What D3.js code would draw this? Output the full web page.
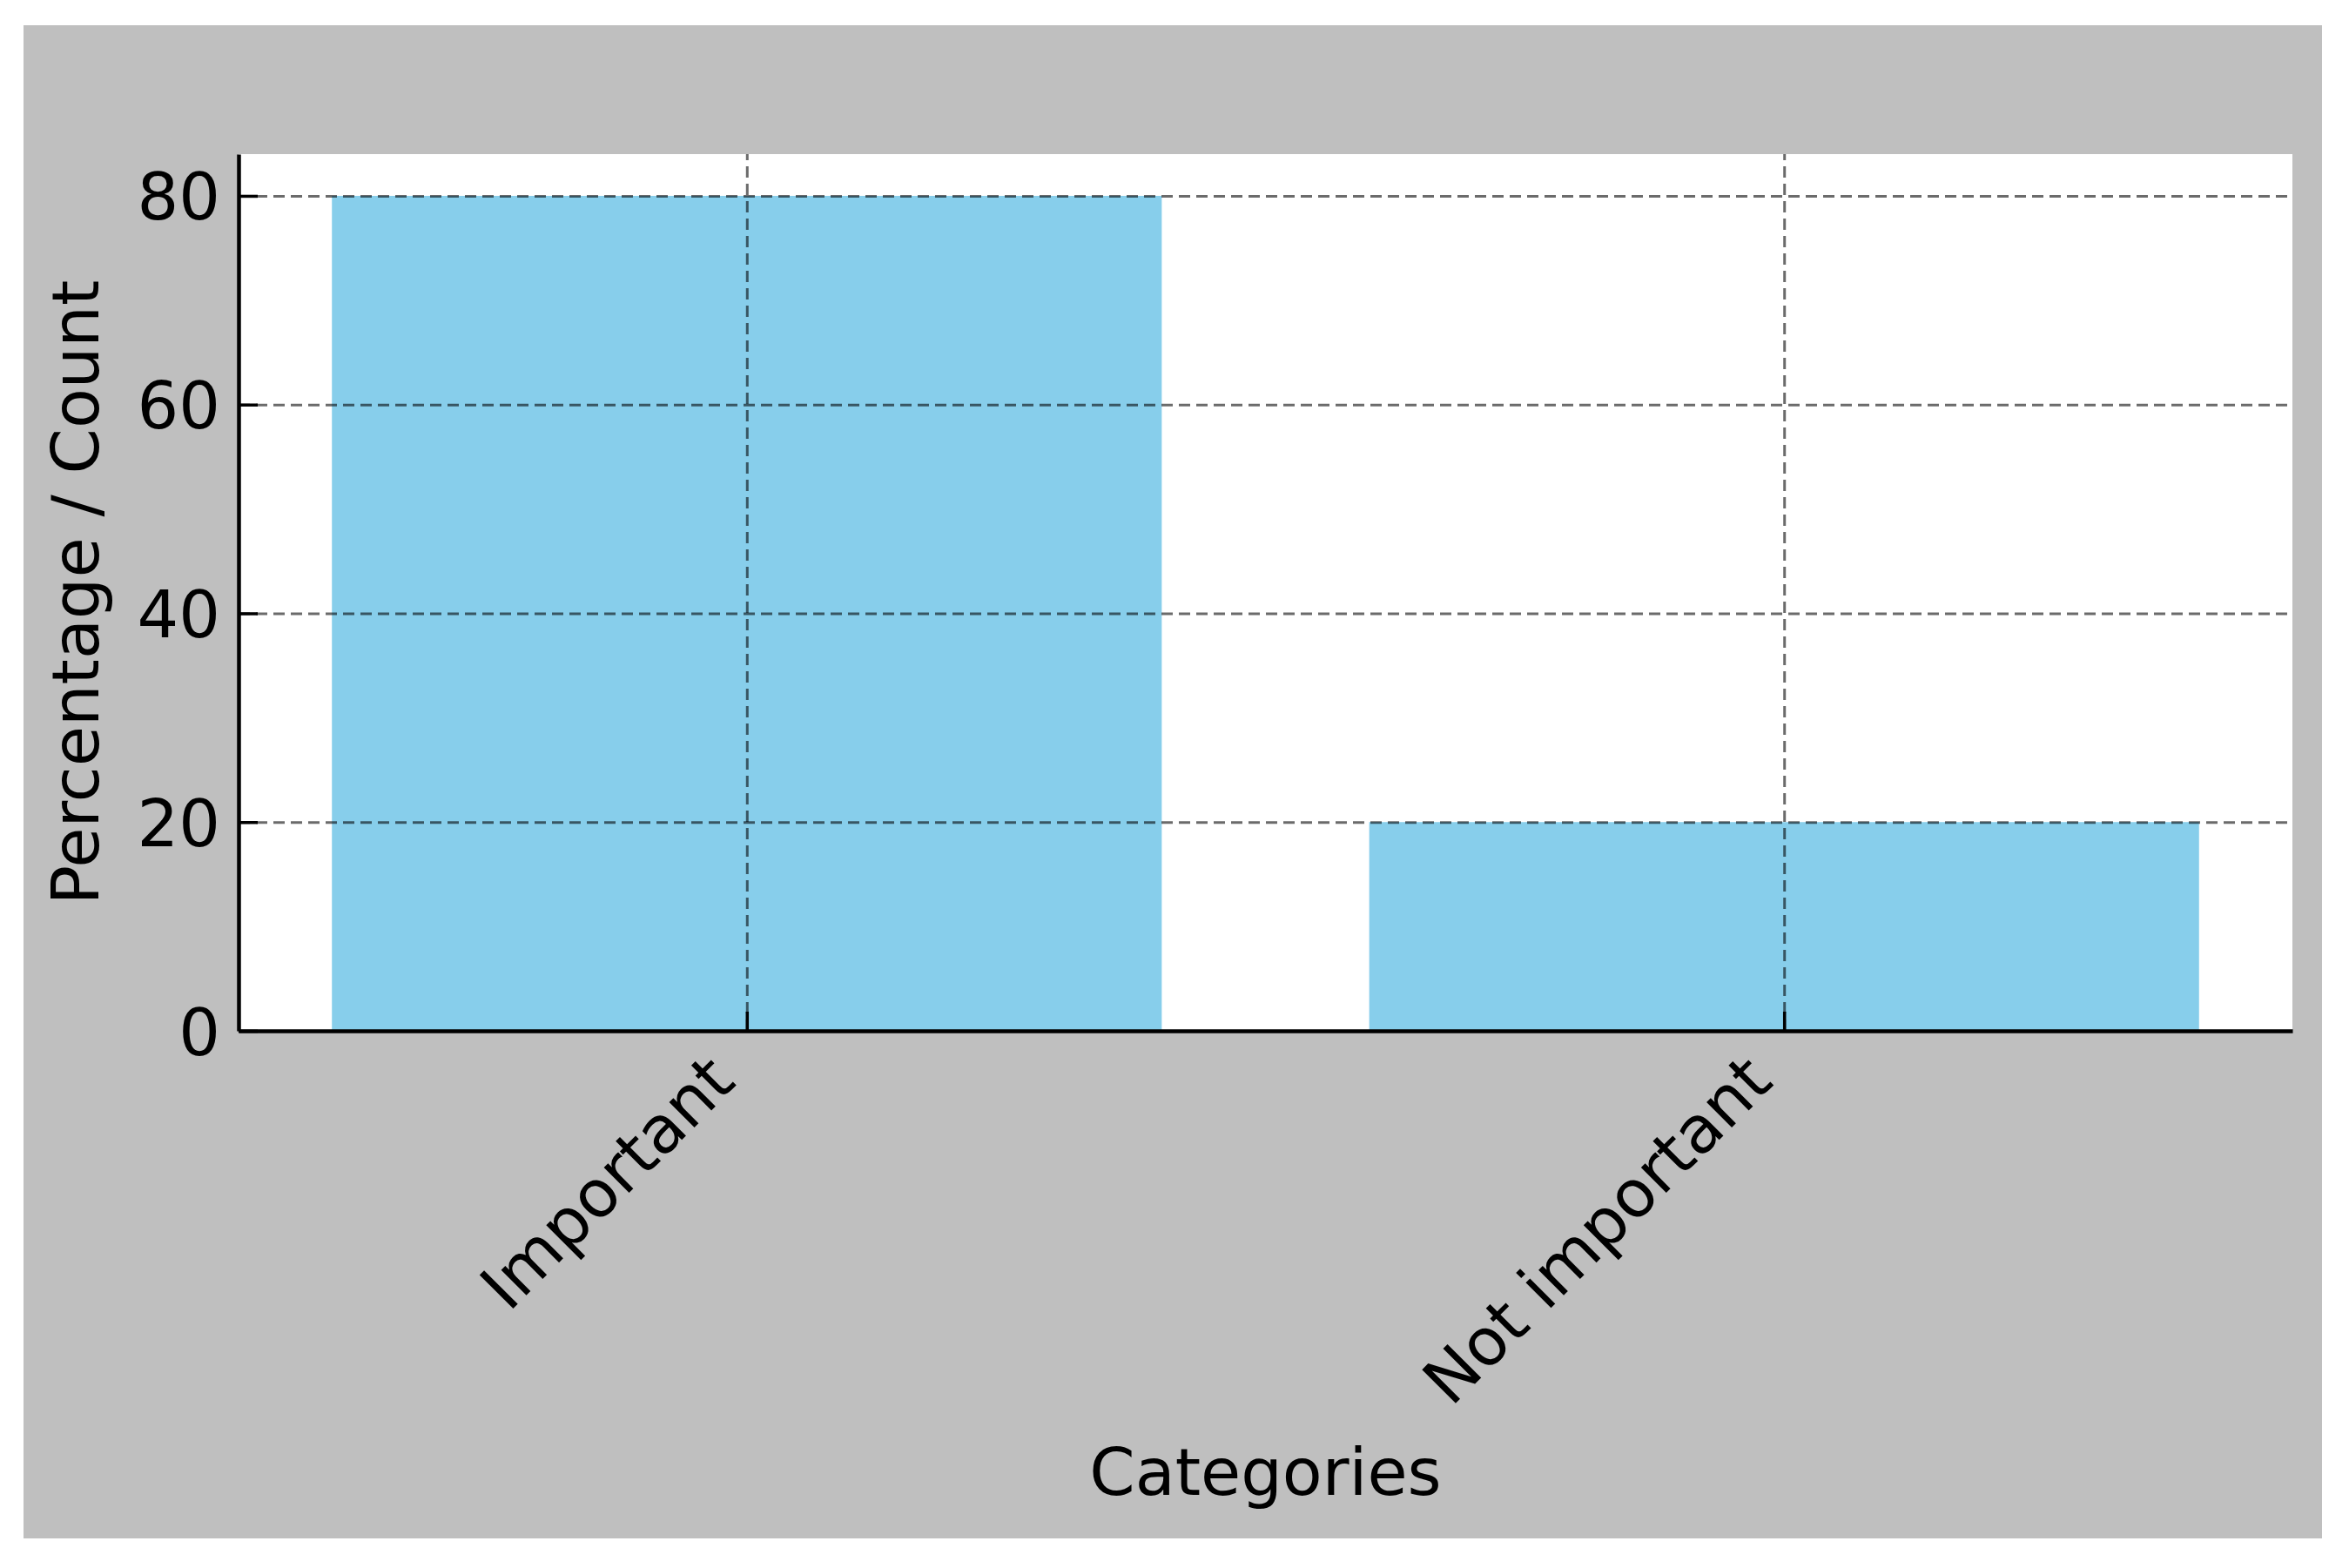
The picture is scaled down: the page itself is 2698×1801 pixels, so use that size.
<!DOCTYPE html>
<html>
<head>
<meta charset="utf-8">
<script src="https://cdn.jsdelivr.net/npm/d3@7"></script>
<style>
  body { margin: 0; background: #fff; }
  text { font-family: 'DejaVu Sans', sans-serif; }
</style>
</head>
<body>
<div id="chart"></div>
<script>
const categories = ['Important', 'Not important']
const values = [80, 20]
const yTicks = [0, 20, 40, 60, 80]
const yMax = 84

const svgWidth = 2698
const svgHeight = 1801
const fontSize = 75
const plot = {left: 274, right: 2633, top: 177, bottom: 1184}
const tickLen = 22
const pad = 21

const svg = d3.select('#chart').append('svg')
  .attr('width', svgWidth)
  .attr('height', svgHeight)

// figure background
svg.append('rect')
  .attr('x', 27).attr('y', 29)
  .attr('width', 2640).attr('height', 1738)
  .attr('fill', '#bfbfbf')

svg.append('rect')
  .attr('x', plot.left).attr('y', plot.top)
  .attr('width', plot.right - plot.left)
  .attr('height', plot.bottom - plot.top)
  .attr('fill', '#fff')

const x = d3.scaleLinear()
  .domain([-0.49, categories.length - 1 + 0.49])
  .range([plot.left, plot.right])
const y = d3.scaleLinear()
  .domain([0, yMax])
  .range([plot.bottom, plot.top])

const barWidth = 0.8

svg.selectAll('.bar')
  .data(values)
  .enter().append('rect')
  .attr('class', 'bar')
  .attr('x', (d, i) => x(i - barWidth / 2))
  .attr('width', (d, i) => x(i + barWidth / 2) - x(i - barWidth / 2))
  .attr('y', d => y(d))
  .attr('height', d => y(0) - y(d))
  .attr('fill', '#87ceeb')

// grid
const gridY = svg.append('g')
  .attr('transform', 'translate(' + plot.left + ',0)')
  .call(d3.axisLeft(y).tickValues(yTicks).tickSize(-(plot.right - plot.left)).tickFormat(''))
const gridX = svg.append('g')
  .attr('transform', 'translate(0,' + plot.bottom + ')')
  .call(d3.axisBottom(x).tickValues(d3.range(categories.length)).tickSize(-(plot.bottom - plot.top)).tickFormat(''))
;[gridY, gridX].forEach(g => {
  g.select('.domain').remove()
  g.selectAll('line')
    .attr('stroke', '#000')
    .attr('stroke-opacity', 0.58)
    .attr('stroke-width', 3)
    .attr('stroke-dasharray', '13 7')
})

// axes
const yAxis = svg.append('g')
  .attr('transform', 'translate(' + plot.left + ',0)')
  .call(d3.axisLeft(y).tickValues(yTicks).tickSize(-tickLen).tickSizeOuter(0).tickPadding(pad))
yAxis.selectAll('text')
  .attr('dy', '0.36em')

const xAxis = svg.append('g')
  .attr('transform', 'translate(0,' + plot.bottom + ')')
  .call(d3.axisBottom(x).tickValues(d3.range(categories.length))
    .tickFormat(i => categories[i]).tickSize(-tickLen).tickSizeOuter(0))

const asc = 0.76 * fontSize
const desc = 0.21 * fontSize
xAxis.selectAll('text')
  .attr('y', null)
  .attr('dy', null)
  .attr('text-anchor', 'end')
  .attr('transform', 'translate(' + (-0.7071 * desc) + ',' + (pad + 0.7071 * asc) + ') rotate(-45)')

;[yAxis, xAxis].forEach(g => {
  g.attr('font-size', fontSize).attr('font-family', 'DejaVu Sans')
  g.select('.domain').attr('stroke', '#000').attr('stroke-width', 4.5)
  g.selectAll('.tick line').attr('stroke', '#000').attr('stroke-width', 3.5)
  g.selectAll('.tick text').attr('fill', '#000')
})

svg.append('text')
  .attr('x', (plot.left + plot.right) / 2)
  .attr('y', 1717)
  .attr('text-anchor', 'middle')
  .attr('font-size', fontSize)
  .attr('fill', '#000')
  .text('Categories')

svg.append('text')
  .attr('transform', 'translate(113,' + (plot.top + plot.bottom) / 2 + ') rotate(-90)')
  .attr('text-anchor', 'middle')
  .attr('font-size', fontSize)
  .attr('fill', '#000')
  .text('Percentage / Count')
</script>
</body>
</html>
